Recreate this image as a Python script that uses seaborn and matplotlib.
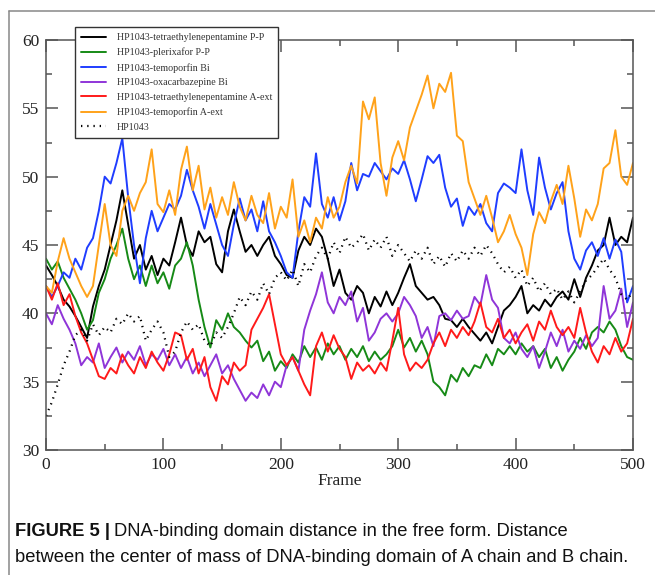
import matplotlib
matplotlib.use("Agg")
import matplotlib.pyplot as plt
import numpy as np
import pandas as pd
import seaborn as sns
from matplotlib.lines import Line2D
from matplotlib.ticker import MultipleLocator

# values every 5 frames
frames = list(range(0, 501, 5))

tetra_pp = [43.5, 42.8, 42.0, 41.0, 40.5, 39.8, 39.0, 38.2, 40.5, 42.0, 43.2, 45.0, 46.8, 49.0, 46.5, 44.0, 45.0,
            43.2, 44.2, 42.8, 44.0, 43.5, 45.2, 47.0, 45.0, 44.2, 46.0, 45.2, 45.6, 43.6, 43.0, 46.0, 47.6, 46.0,
            44.5, 45.0, 44.2, 45.0, 45.6, 44.2, 43.6, 42.8, 42.6, 44.6, 45.6, 45.0, 46.2, 45.6, 44.0, 42.0, 43.2,
            41.5, 41.0, 42.0, 41.5, 40.0, 41.2, 40.5, 41.6, 40.6, 41.5, 42.6, 43.6, 42.0, 41.5, 41.0, 41.2, 40.6,
            39.6, 39.5, 39.0, 39.6, 39.0, 38.5, 38.0, 38.6, 37.8, 39.0, 40.2, 40.6, 41.2, 42.0, 40.0, 40.6, 40.2,
            41.0, 40.5, 41.2, 41.6, 41.0, 42.5, 41.2, 42.6, 43.5, 44.6, 45.0, 47.0, 45.0, 45.6, 45.2, 47.0]

plerixafor_pp = [44.0, 43.2, 43.8, 42.6, 41.8, 41.0, 40.0, 38.8, 39.5, 41.5, 42.5, 44.0, 45.0, 46.2, 44.0, 42.5,
                 43.5, 42.0, 43.5, 42.2, 43.0, 41.8, 43.5, 44.0, 45.2, 43.5, 41.0, 39.0, 37.5, 39.5, 38.8, 40.0,
                 39.0, 38.6, 38.0, 37.5, 38.0, 36.5, 37.2, 35.8, 36.5, 36.0, 37.0, 36.4, 37.6, 36.8, 37.5, 36.6,
                 37.8, 37.0, 37.6, 36.6, 37.4, 36.8, 37.6, 36.5, 37.2, 36.6, 37.0, 37.6, 38.8, 37.5, 38.2, 37.2,
                 38.0, 37.0, 35.0, 34.6, 34.0, 35.5, 35.0, 36.0, 35.4, 36.2, 36.0, 37.0, 36.2, 37.4, 37.0, 37.6,
                 37.0, 37.8, 37.2, 37.6, 36.8, 37.4, 36.0, 36.8, 35.8, 36.6, 37.2, 38.2, 37.4, 38.6, 39.0, 38.6,
                 39.4, 38.8, 37.6, 36.8, 36.6]

temoporfin_bi = [42.0, 41.2, 42.0, 43.0, 42.6, 44.0, 43.2, 44.8, 45.5, 47.5, 50.0, 49.5, 51.0, 52.8, 48.5, 45.0,
                 42.2, 45.5, 47.5, 46.0, 47.0, 48.0, 47.6, 48.6, 50.5, 49.0, 47.8, 46.2, 48.0, 46.5, 45.0, 44.2,
                 46.5, 48.4, 46.8, 47.6, 46.0, 48.2, 46.0, 45.2, 44.2, 43.0, 42.6, 46.0, 48.5, 47.8, 51.7, 48.0,
                 47.0, 48.5, 46.8, 48.2, 51.0, 49.0, 50.2, 50.0, 51.0, 50.4, 49.8, 50.6, 50.2, 51.2, 49.8, 48.2,
                 49.8, 51.5, 51.0, 51.6, 49.2, 47.8, 48.4, 46.4, 47.8, 47.2, 48.0, 46.6, 46.0, 48.8, 49.5, 49.2,
                 48.8, 52.0, 49.0, 47.2, 51.4, 49.2, 47.6, 48.8, 49.6, 46.0, 44.0, 43.2, 44.6, 45.2, 44.2, 45.5,
                 44.0, 45.4, 44.5, 40.8, 42.0]

oxcarb_bi = [40.0, 39.2, 40.6, 39.6, 38.8, 37.8, 36.2, 36.8, 36.4, 37.8, 36.0, 36.8, 37.5, 36.4, 37.2, 36.6, 37.6,
             36.2, 37.0, 36.6, 37.4, 36.2, 37.0, 36.0, 36.8, 35.6, 36.4, 35.4, 36.2, 37.0, 35.6, 36.2, 35.2, 34.4,
             33.6, 34.2, 33.8, 34.8, 34.0, 35.0, 34.6, 36.2, 36.8, 35.8, 38.8, 40.2, 41.4, 43.0, 40.8, 40.0, 41.2,
             40.6, 41.6, 39.4, 40.4, 38.0, 38.6, 39.6, 40.0, 39.4, 40.0, 41.2, 40.6, 39.8, 38.2, 39.0, 37.6, 39.8,
             40.0, 39.5, 40.2, 39.6, 39.8, 41.2, 40.6, 42.8, 41.0, 40.4, 38.2, 37.8, 38.6, 37.4, 36.8, 37.6, 36.0,
             37.2, 38.6, 37.6, 38.8, 37.2, 38.0, 37.4, 38.4, 37.6, 38.2, 42.0, 39.6, 40.2, 41.8, 39.0, 40.8]

tetra_aext = [42.0, 41.0, 42.2, 40.6, 41.4, 39.8, 38.6, 37.8, 36.6, 35.4, 35.2, 36.0, 35.6, 37.0, 36.2, 35.6, 36.8,
              36.0, 37.2, 36.4, 35.8, 37.0, 38.6, 38.4, 36.6, 37.4, 35.6, 36.8, 34.6, 33.6, 35.4, 34.8, 36.4, 35.8,
              36.2, 38.8, 39.6, 40.4, 41.4, 39.2, 37.0, 36.2, 36.8, 35.8, 34.8, 34.0, 37.6, 38.6, 37.2, 38.4, 37.4,
              36.8, 35.2, 36.4, 35.8, 36.2, 35.6, 36.4, 35.8, 38.0, 40.4, 37.0, 35.8, 36.4, 36.0, 36.6, 37.8, 38.6,
              37.6, 38.8, 38.2, 39.0, 38.4, 39.4, 40.8, 39.0, 38.6, 39.6, 38.2, 38.8, 37.8, 38.6, 39.2, 38.0, 39.4,
              38.8, 40.2, 39.0, 38.4, 39.0, 38.2, 40.4, 38.6, 37.2, 36.4, 37.6, 37.0, 38.2, 37.2, 37.8, 39.6]

temoporfin_aext = [42.0, 41.5, 43.8, 45.5, 44.0, 43.0, 42.0, 41.2, 42.0, 45.0, 48.0, 45.0, 44.2, 47.5, 48.6, 47.5,
                   48.8, 49.6, 52.0, 48.0, 47.4, 49.0, 47.2, 50.5, 52.2, 49.0, 50.8, 47.6, 49.2, 47.0, 48.5, 47.2,
                   49.6, 47.8, 46.8, 48.6, 47.2, 46.6, 48.8, 46.2, 47.8, 47.0, 49.8, 45.6, 46.8, 45.2, 47.0, 46.2,
                   48.5, 47.0, 47.8, 49.6, 50.8, 49.5, 55.5, 54.2, 55.8, 51.0, 48.6, 51.4, 52.6, 51.2, 53.6, 54.8,
                   56.0, 57.4, 55.0, 56.8, 56.2, 57.6, 53.0, 52.6, 49.6, 48.4, 47.2, 48.6, 47.0, 45.2, 46.0, 47.2,
                   45.8, 44.8, 42.8, 45.8, 47.4, 46.6, 48.2, 49.4, 48.0, 50.8, 48.4, 45.6, 47.6, 46.8, 48.0, 50.6,
                   51.0, 53.4, 50.0, 49.4, 51.0]

hp1043 = [32.5, 33.5, 34.8, 36.2, 37.2, 38.4, 38.8, 38.0, 39.2, 38.4, 39.0, 38.6, 39.6, 39.2, 40.0, 39.4, 39.8,
          38.0, 38.8, 39.4, 38.6, 36.8, 37.2, 38.6, 39.4, 38.8, 39.2, 38.0, 37.6, 38.6, 38.2, 39.0, 40.0, 41.2,
          40.6, 41.6, 41.0, 42.2, 41.4, 42.6, 43.0, 42.4, 43.2, 42.0, 43.6, 43.0, 44.2, 44.8, 44.0, 45.2, 44.4,
          45.6, 44.8, 45.2, 45.8, 44.6, 45.4, 44.8, 45.6, 44.2, 45.0, 44.4, 43.8, 44.6, 44.0, 44.8, 43.6, 44.2,
          43.4, 44.4, 43.8, 44.6, 44.0, 44.8, 44.2, 45.0, 44.4, 43.6, 43.0, 43.4, 42.6, 43.2, 42.0, 42.6, 41.6,
          42.2, 41.4, 41.8, 41.0, 41.6, 40.8, 41.6, 42.4, 42.8, 43.4, 44.0, 43.2, 42.6, 41.4, 41.0, 41.6]

labels = ["HP1043-tetraethylenepentamine P-P", "HP1043-plerixafor P-P", "HP1043-temoporfin Bi",
          "HP1043-oxacarbazepine Bi", "HP1043-tetraethylenepentamine A-ext", "HP1043-temoporfin A-ext", "HP1043"]
colors = ["#000000", "#168a16", "#1f3dff", "#8f35d8", "#ff1a1a", "#ffa21a", "#000000"]
series = [tetra_pp, plerixafor_pp, temoporfin_bi, oxcarb_bi, tetra_aext, temoporfin_aext, hp1043]

sns.set_style("ticks")
plt.rcParams["font.family"] = ["Liberation Serif", "DejaVu Serif"]

fig = plt.figure(figsize=(6.55, 5.75), dpi=100)
ax = fig.add_axes([46 / 655, 1 - 450 / 575, 587 / 655, 410 / 575])

for name, color, values in zip(labels, colors, series):
    df = pd.DataFrame({"Frame": frames, "dist": values})
    dotted = name == "HP1043"
    sns.lineplot(data=df, x="Frame", y="dist", ax=ax, color=color, label=name,
                 linewidth=1.6 if dotted else 1.4, linestyle=(0, (0.6, 2.2)) if dotted else "-")

ax.set_xlim(0, 500)
ax.set_ylim(30, 60)
ax.xaxis.set_major_locator(MultipleLocator(100))
ax.xaxis.set_minor_locator(MultipleLocator(50))
ax.yaxis.set_major_locator(MultipleLocator(5))
ax.yaxis.set_minor_locator(MultipleLocator(2.5))
ax.tick_params(which="both", direction="in", top=True, right=True, colors="#555555", labelcolor="#222222")
ax.tick_params(which="major", length=8.5, width=1.1, labelsize=12.5, pad=5)
ax.tick_params(which="minor", length=4.5, width=1.1)
for spine in ax.spines.values():
    spine.set_color("#555555")
    spine.set_linewidth(1.1)
ax.set_xlabel("Frame", fontsize=12.5, color="#222222", labelpad=0)
ax.set_ylabel("")

handles, lab = ax.get_legend_handles_labels()
leg = ax.legend(handles, lab, loc="upper left", bbox_to_anchor=(75 / 655, 1 - 27 / 575),
                bbox_transform=fig.transFigure, fontsize=7.2, frameon=True, fancybox=False,
                edgecolor="#333333", framealpha=1, handlelength=2.5, handletextpad=1.1,
                labelspacing=0.56, borderpad=0.6, borderaxespad=0)
leg.get_frame().set_linewidth(1.0)
for t in leg.get_texts():
    t.set_color("#333333")

# page frame seen at the left and top
fig.add_artist(Line2D([9 / 655, 9 / 655], [0, 1 - 11 / 575], transform=fig.transFigure, color="#888888", lw=1.1))
fig.add_artist(Line2D([9 / 655, 1], [1 - 11 / 575, 1 - 11 / 575], transform=fig.transFigure, color="#888888", lw=1.1))

# caption
cap_font = ["Liberation Sans", "DejaVu Sans"]
cap_size = 13.2
bold = fig.text(15 / 655, 1 - 532 / 575, "FIGURE 5 |", fontsize=cap_size, fontweight="bold", family=cap_font,
                va="center", color="#111111")
fig.canvas.draw()
bb = bold.get_window_extent(fig.canvas.get_renderer())
fig.text(bb.x1 / fig.bbox.width + 4 / 655, 1 - 532 / 575, "DNA-binding domain distance in the free form. Distance",
         fontsize=cap_size, family=cap_font, va="center", color="#111111")
fig.text(15 / 655, 1 - 557 / 575, "between the center of mass of DNA-binding domain of A chain and B chain.",
         fontsize=cap_size, family=cap_font, va="center", color="#111111")

fig.savefig("out.png", dpi=100)
